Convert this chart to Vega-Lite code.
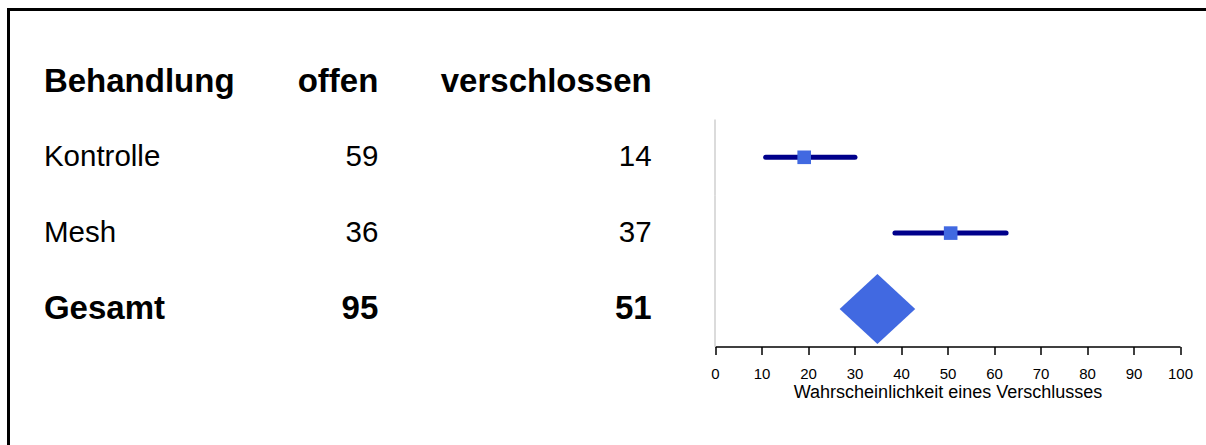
{
  "$schema": "https://vega.github.io/schema/vega-lite/v6.json",
  "autosize": {"type": "none"},
  "width": 1202,
  "height": 440,
  "padding": {"left": 8.5, "top": 9.5, "right": -4.5, "bottom": -4.5},
  "background": "white",
  "config": {
    "view": {"stroke": "#000000", "strokeWidth": 3},
    "font": "Liberation Sans",
    "text": {"font": "Liberation Sans", "color": "#000000"}
  },
  "datasets": {
    "tabelle": [
      {"Behandlung": "Kontrolle", "offen": 59, "verschlossen": 14, "Anteil": 19.18, "unten": 10.9, "oben": 30.1},
      {"Behandlung": "Mesh", "offen": 36, "verschlossen": 37, "Anteil": 50.68, "unten": 38.7, "oben": 62.6},
      {"Behandlung": "Gesamt", "offen": 95, "verschlossen": 51, "Anteil": 34.93, "unten": 27.2, "oben": 43.2}
    ],
    "kopf": [{"Spalte": "Behandlung"}, {"Spalte": "offen"}, {"Spalte": "verschlossen"}]
  },
  "data": {"name": "tabelle"},
  "encoding": {
    "y": {
      "field": "Behandlung",
      "type": "nominal",
      "scale": {"domain": ["Kopf", "Kontrolle", "Mesh", "Gesamt"], "range": [34.1, 337.3], "paddingInner": 0, "paddingOuter": 0},
      "axis": null
    }
  },
  "layer": [
    {
      "layer": [
        {
          "transform": [{"filter": "datum.Behandlung !== 'Gesamt'"}],
          "mark": {"type": "text", "align": "left", "dx": -61, "fontSize": 29.5},
          "encoding": {
            "x": {"datum": "Behandlung", "type": "nominal", "scale": {"type": "point", "domain": ["Behandlung", "offen", "verschlossen"], "range": [96.4, 643.2], "padding": 0}, "axis": null},
            "text": {"field": "Behandlung", "type": "nominal"}
          }
        },
        {
          "transform": [{"filter": "datum.Behandlung === 'Gesamt'"}],
          "mark": {"type": "text", "align": "left", "dx": -61, "fontSize": 33, "fontWeight": "bold"},
          "encoding": {
            "x": {"datum": "Behandlung", "type": "nominal", "scale": {"type": "point", "domain": ["Behandlung", "offen", "verschlossen"], "range": [96.4, 643.2], "padding": 0}, "axis": null},
            "text": {"field": "Behandlung", "type": "nominal"}
          }
        },
        {
          "transform": [
            {"filter": "datum.Behandlung !== 'Gesamt'"},
            {"fold": ["offen", "verschlossen"], "as": ["Spalte", "Anzahl"]}
          ],
          "mark": {"type": "text", "align": "right", "fontSize": 29.5},
          "encoding": {
            "x": {"field": "Spalte", "type": "nominal", "scale": {"type": "point", "domain": ["Behandlung", "offen", "verschlossen"], "range": [96.4, 643.2], "padding": 0}, "axis": null},
            "text": {"field": "Anzahl", "type": "quantitative"}
          }
        },
        {
          "transform": [
            {"filter": "datum.Behandlung === 'Gesamt'"},
            {"fold": ["offen", "verschlossen"], "as": ["Spalte", "Anzahl"]}
          ],
          "mark": {"type": "text", "align": "right", "fontSize": 33, "fontWeight": "bold"},
          "encoding": {
            "x": {"field": "Spalte", "type": "nominal", "scale": {"type": "point", "domain": ["Behandlung", "offen", "verschlossen"], "range": [96.4, 643.2], "padding": 0}, "axis": null},
            "text": {"field": "Anzahl", "type": "quantitative"}
          }
        },
        {
          "data": {"name": "kopf"},
          "transform": [{"filter": "datum.Spalte === 'Behandlung'"}],
          "mark": {"type": "text", "align": "left", "dx": -61, "fontSize": 33, "fontWeight": "bold"},
          "encoding": {
            "x": {"field": "Spalte", "type": "nominal", "scale": {"type": "point", "domain": ["Behandlung", "offen", "verschlossen"], "range": [96.4, 643.2], "padding": 0}, "axis": null},
            "y": {"datum": "Kopf", "type": "nominal"},
            "text": {"field": "Spalte", "type": "nominal"}
          }
        },
        {
          "data": {"name": "kopf"},
          "transform": [{"filter": "datum.Spalte !== 'Behandlung'"}],
          "mark": {"type": "text", "align": "right", "fontSize": 33, "fontWeight": "bold"},
          "encoding": {
            "x": {"field": "Spalte", "type": "nominal", "scale": {"type": "point", "domain": ["Behandlung", "offen", "verschlossen"], "range": [96.4, 643.2], "padding": 0}, "axis": null},
            "y": {"datum": "Kopf", "type": "nominal"},
            "text": {"field": "Spalte", "type": "nominal"}
          }
        }
      ]
    },
    {
      "layer": [
        {
          "mark": {"type": "rect", "fill": null, "stroke": "#d0d0d0", "strokeWidth": 1.5},
          "encoding": {
            "x": {
              "datum": 0, "type": "quantitative",
              "scale": {"type": "linear", "domain": [0, 100], "range": [706.5, 1171.5], "nice": false, "zero": false},
              "axis": {"title": "Wahrscheinlichkeit eines Verschlusses", "values": [0, 10, 20, 30, 40, 50, 60, 70, 80, 90, 100], "offset": -103, "grid": false, "domainColor": "#000000", "domainWidth": 1.5, "tickColor": "#000000", "tickWidth": 1.5, "tickSize": 8, "labelFont": "Liberation Sans", "labelFontSize": 15, "labelColor": "#000000", "labelPadding": 12, "labelFlush": false, "titleFont": "Liberation Sans", "titleFontSize": 18, "titleFontWeight": "normal", "titleColor": "#000000", "titlePadding": 2}
            },
            "x2": {"datum": 0}
          }
        },
        {
          "transform": [{"filter": "datum.Behandlung !== 'Gesamt'"}],
          "mark": {"type": "rule", "color": "#00008B", "strokeWidth": 5, "strokeCap": "round"},
          "encoding": {
            "x": {
              "field": "unten", "type": "quantitative",
              "scale": {"type": "linear", "domain": [0, 100], "range": [706.5, 1171.5], "nice": false, "zero": false},
              "axis": {"title": "Wahrscheinlichkeit eines Verschlusses", "values": [0, 10, 20, 30, 40, 50, 60, 70, 80, 90, 100], "offset": -103, "grid": false, "domainColor": "#000000", "domainWidth": 1.5, "tickColor": "#000000", "tickWidth": 1.5, "tickSize": 8, "labelFont": "Liberation Sans", "labelFontSize": 15, "labelColor": "#000000", "labelPadding": 12, "labelFlush": false, "titleFont": "Liberation Sans", "titleFontSize": 18, "titleFontWeight": "normal", "titleColor": "#000000", "titlePadding": 2}
            },
            "x2": {"field": "oben"}
          }
        },
        {
          "transform": [{"filter": "datum.Behandlung !== 'Gesamt'"}],
          "mark": {"type": "point", "shape": "square", "filled": true, "size": 185, "color": "#4169E1", "opacity": 1},
          "encoding": {
            "x": {
              "field": "Anteil", "type": "quantitative",
              "scale": {"type": "linear", "domain": [0, 100], "range": [706.5, 1171.5], "nice": false, "zero": false},
              "axis": {"title": "Wahrscheinlichkeit eines Verschlusses", "values": [0, 10, 20, 30, 40, 50, 60, 70, 80, 90, 100], "offset": -103, "grid": false, "domainColor": "#000000", "domainWidth": 1.5, "tickColor": "#000000", "tickWidth": 1.5, "tickSize": 8, "labelFont": "Liberation Sans", "labelFontSize": 15, "labelColor": "#000000", "labelPadding": 12, "labelFlush": false, "titleFont": "Liberation Sans", "titleFontSize": 18, "titleFontWeight": "normal", "titleColor": "#000000", "titlePadding": 2}
            }
          }
        },
        {
          "transform": [{"filter": "datum.Behandlung === 'Gesamt'"}],
          "mark": {"type": "point", "shape": "M-1,0L0,-0.926L1,0L0,0.926Z", "filled": true, "size": 5715, "color": "#4169E1", "opacity": 1},
          "encoding": {
            "x": {
              "field": "Anteil", "type": "quantitative",
              "scale": {"type": "linear", "domain": [0, 100], "range": [706.5, 1171.5], "nice": false, "zero": false},
              "axis": {"title": "Wahrscheinlichkeit eines Verschlusses", "values": [0, 10, 20, 30, 40, 50, 60, 70, 80, 90, 100], "offset": -103, "grid": false, "domainColor": "#000000", "domainWidth": 1.5, "tickColor": "#000000", "tickWidth": 1.5, "tickSize": 8, "labelFont": "Liberation Sans", "labelFontSize": 15, "labelColor": "#000000", "labelPadding": 12, "labelFlush": false, "titleFont": "Liberation Sans", "titleFontSize": 18, "titleFontWeight": "normal", "titleColor": "#000000", "titlePadding": 2}
            }
          }
        }
      ]
    }
  ],
  "resolve": {"scale": {"x": "independent"}}
}
